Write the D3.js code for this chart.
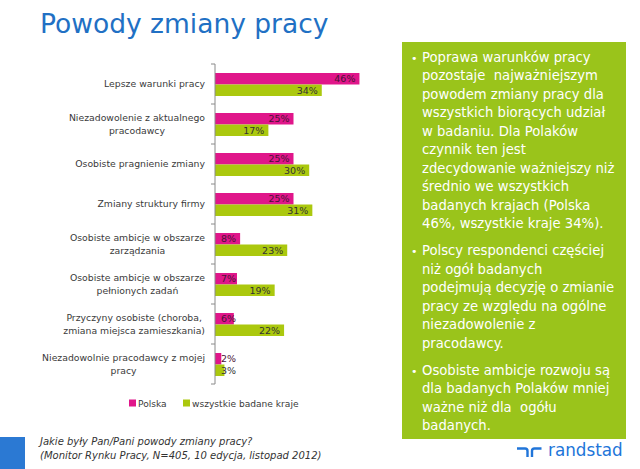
<!DOCTYPE html>
<html><head><meta charset="utf-8">
<script src="https://cdn.jsdelivr.net/npm/d3@7"></script>
<style>
html,body{margin:0;padding:0;background:#fff;}
svg{display:block;font-family:"DejaVu Sans",Verdana,sans-serif;}
</style></head>
<body>
<script>
const title = "Powody zmiany pracy";
const categories = [
  "Lepsze warunki pracy",
  "Niezadowolenie z aktualnego\npracodawcy",
  "Osobiste pragnienie zmiany",
  "Zmiany struktury firmy",
  "Osobiste ambicje w obszarze\nzarządzania",
  "Osobiste ambicje w obszarze\npełnionych zadań",
  "Przyczyny osobiste (choroba,\nzmiana miejsca zamieszkania)",
  "Niezadowolnie pracodawcy z mojej\npracy"
];
const seriesNames = ["Polska", "wszystkie badane kraje"];
const polska = [46, 25, 25, 25, 8, 7, 6, 2];
const wszystkie = [34, 17, 30, 31, 23, 19, 22, 3];
const seriesColors = ["#E0168A", "#ABC80E"];
const labelColors = ["#4a1235", "#333333"];
const bullets = [
  ["Poprawa warunków pracy", "pozostaje  najważniejszym", "powodem zmiany pracy dla", "wszystkich biorących udział", "w badaniu. Dla Polaków", "czynnik ten jest", "zdecydowanie ważniejszy niż", "średnio we wszystkich", "badanych krajach (Polska", "46%, wszystkie kraje 34%)."],
  ["Polscy respondenci częściej", "niż ogół badanych", "podejmują decyzję o zmianie", "pracy ze względu na ogólne", "niezadowolenie z", "pracodawcy."],
  ["Osobiste ambicje rozwoju są", "dla badanych Polaków mniej", "ważne niż dla  ogółu", "badanych."]
];
const footnote = ["Jakie były Pan/Pani powody zmiany pracy?", "(Monitor Rynku Pracy, N=405, 10 edycja, listopad 2012)"];
const brand = "randstad";

const W = 640, H = 469;
const svg = d3.select("body").append("svg").attr("width", W).attr("height", H);

// title
svg.append("text").attr("x", 40).attr("y", 33).attr("font-size", 26.5)
  .attr("fill", "#2170C4").text(title);

// scales
const x = d3.scaleLinear().domain([0, 50]).range([215, 372]);
const y0 = d3.scaleBand().domain(categories).range([64, 384]);
const y1 = d3.scaleBand().domain(seriesNames).range([9, 32]);

const data = categories.map((c, i) => ({cat: c, vals: [polska[i], wszystkie[i]]}));

// bars
const g = svg.append("g");
const groups = g.selectAll("g.cat").data(data).join("g")
  .attr("transform", d => `translate(0,${y0(d.cat)})`);
groups.selectAll("rect").data(d => d.vals.map((v, j) => ({v, s: seriesNames[j], j})))
  .join("rect")
  .attr("x", x(0)).attr("y", d => y1(d.s))
  .attr("width", d => x(d.v) - x(0)).attr("height", y1.bandwidth())
  .attr("fill", d => seriesColors[d.j]);

// value labels
groups.selectAll("text.val").data(d => d.vals.map((v, j) => ({v, s: seriesNames[j], j})))
  .join("text").attr("class", "val")
  .attr("font-size", 9.5).attr("fill", d => labelColors[d.j])
  .attr("text-anchor", "end")
  .attr("y", d => y1(d.s) + y1.bandwidth() / 2 + 3.5)
  .text(d => d.v + "%")
  .each(function(d) {
    const w = this.getComputedTextLength();
    d3.select(this).attr("x", Math.max(x(d.v) - 4, x(0) + 6 + w));
  });

// axis
const axisG = svg.append("g").attr("transform", `translate(${x(0)},0)`);
axisG.append("line").attr("y1", y0.range()[0]).attr("y2", y0.range()[1])
  .attr("stroke", "#8a8a8a").attr("stroke-width", 1);
const tickYs = categories.map(c => y0(c)).concat([y0.range()[1]]);
axisG.selectAll("line.tick").data(tickYs).join("line").attr("class", "tick")
  .attr("x1", -4).attr("x2", 0).attr("y1", d => d).attr("y2", d => d)
  .attr("stroke", "#8a8a8a");

// category labels
const labelG = svg.append("g");
data.forEach(d => {
  const lines = d.cat.split("\n");
  const cy = y0(d.cat) + y0.bandwidth() / 2;
  const lh = 13;
  const t = labelG.append("g");
  const texts = lines.map((ln, k) => t.append("text")
    .attr("font-size", 9.3).attr("fill", "#3a3a3a").attr("text-anchor", "middle")
    .attr("y", cy + (k - (lines.length - 1) / 2) * lh + 3.4).text(ln));
  const maxW = d3.max(texts, tx => tx.node().getComputedTextLength());
  texts.forEach(tx => tx.attr("x", 205 - maxW / 2));
});

// legend
const leg = svg.append("g");
const legX = [129, 183];
seriesNames.forEach((s, j) => {
  leg.append("rect").attr("x", legX[j]).attr("y", 399.5).attr("width", 7).attr("height", 7)
    .attr("fill", seriesColors[j]);
  leg.append("text").attr("x", legX[j] + 9).attr("y", 406.5).attr("font-size", 9.1)
    .attr("fill", "#3a3a3a").text(s);
});

// green box
svg.append("rect").attr("x", 402).attr("y", 42).attr("width", 224).attr("height", 397)
  .attr("fill", "#9AC41B");
const lineH = 18.5;
let by = 61.5;
bullets.forEach(par => {
  svg.append("text").attr("x", 411).attr("y", by).attr("font-size", 11)
    .attr("fill", "#fff").text("•");
  par.forEach((ln, k) => {
    svg.append("text").attr("x", 422).attr("y", by + k * lineH).attr("font-size", 13.2)
      .attr("fill", "#fff").attr("xml:space", "preserve").style("white-space", "pre").text(ln);
  });
  by += par.length * lineH + 8.5;
});

// brand
const logo = svg.append("g").attr("fill", "none").attr("stroke", "#2175D9")
  .attr("stroke-width", 2.4).attr("stroke-linecap", "butt");
logo.append("path").attr("d", "M517,448.5 h8 q2.5,0 2.5,2.5 v6");
logo.append("path").attr("d", "M532,457 v-6 q0,-2.5 2.5,-2.5 h7");
svg.append("text").attr("x", 548).attr("y", 456).attr("font-size", 16.8)
  .attr("fill", "#2175D9").text(brand);

// bottom-left blue block
svg.append("rect").attr("x", 0).attr("y", 437).attr("width", 25).attr("height", 32)
  .attr("fill", "#2B79D3");

// footnote
footnote.forEach((ln, k) => {
  svg.append("text").attr("x", 40).attr("y", 444.5 + k * 14).attr("font-size", 10)
    .attr("font-style", "italic").attr("fill", "#333").text(ln);
});
</script>
</body></html>
